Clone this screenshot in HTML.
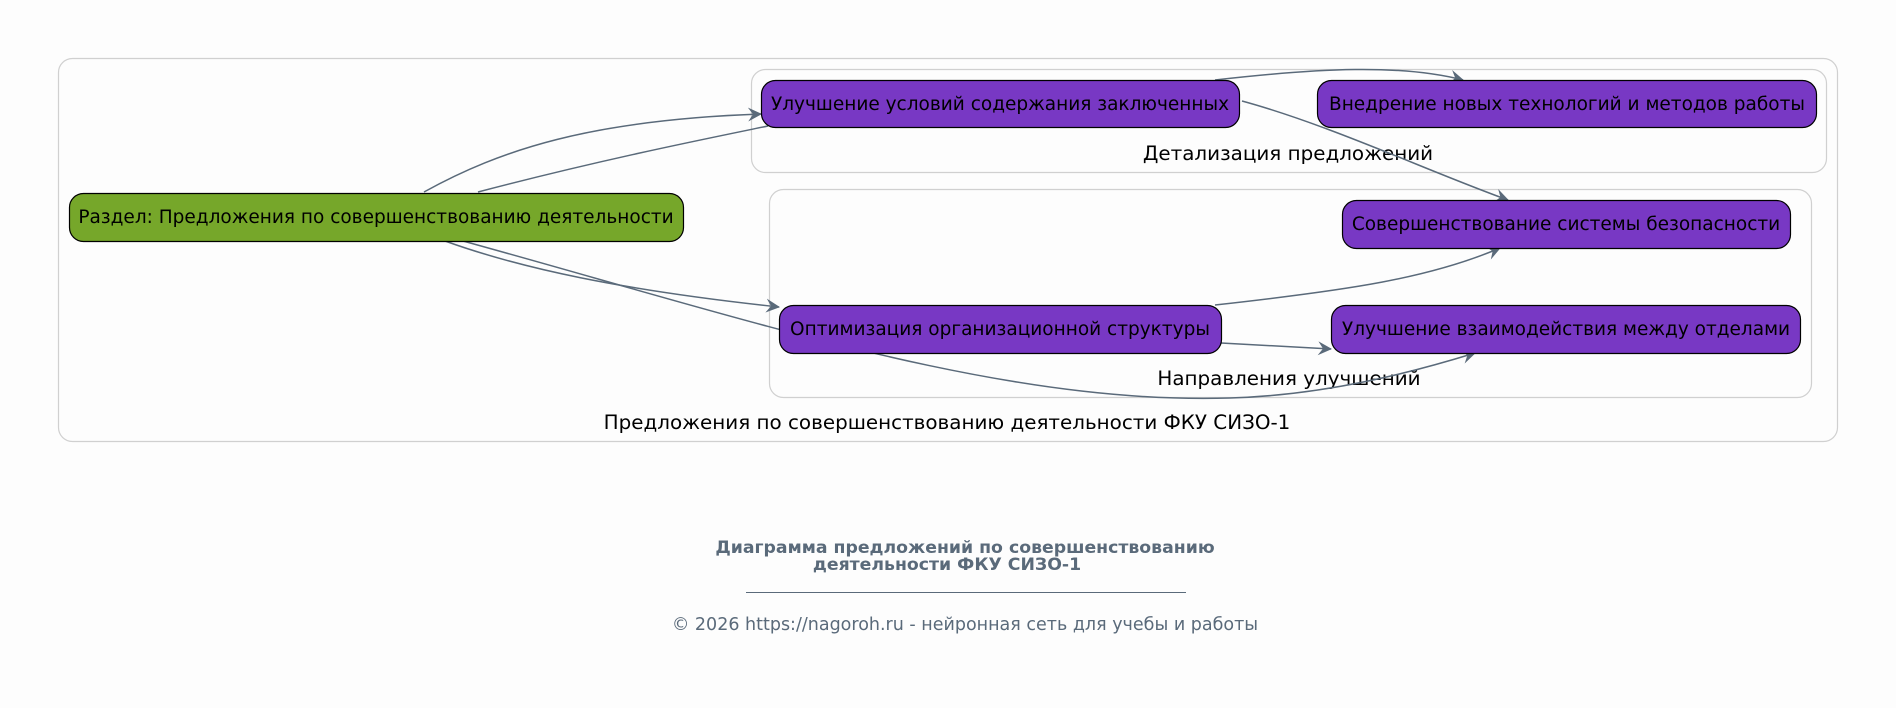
<!DOCTYPE html>
<html><head><meta charset="utf-8"><style>
html,body{margin:0;padding:0;background:#fdfdfd;}
svg{display:block;font-family:"DejaVu Sans","Liberation Sans",sans-serif;}
</style></head><body>
<svg width="1896" height="708" viewBox="0 0 1896 708" xmlns="http://www.w3.org/2000/svg">
<defs>
<marker id="a" viewBox="0 0 14 14" refX="13" refY="7" markerWidth="14" markerHeight="14" markerUnits="userSpaceOnUse" orient="auto">
<path d="M0,0 L14,7 L0,14 L5,7 Z" fill="#5a6a7a"/>
</marker>
</defs>
<rect x="0" y="0" width="1896" height="708" fill="#fdfdfd"/>
<rect x="58.5" y="58.5" width="1779" height="383" rx="14" fill="#fdfdfd" stroke="#d0d0d0" stroke-width="1.2"/>
<text x="947" y="429" font-size="19.9" text-anchor="middle" fill="#000">Предложения по совершенствованию деятельности ФКУ СИЗО-1</text>
<rect x="751.5" y="69.5" width="1075" height="103" rx="14" fill="#fdfdfd" stroke="#d0d0d0" stroke-width="1.2"/>
<text x="1288" y="160" font-size="19.9" text-anchor="middle" fill="#000">Детализация предложений</text>
<rect x="769.5" y="189.5" width="1042" height="208" rx="14" fill="#fdfdfd" stroke="#d0d0d0" stroke-width="1.2"/>
<text x="1289" y="385" font-size="19.9" text-anchor="middle" fill="#000">Направления улучшений</text>

<g fill="none" stroke="#5a6a7a" stroke-width="1.5">
<path d="M424,192 C500,150 590,120 761,114" marker-end="url(#a)"/>
<path d="M478,192 C600,160 700,140 768,126"/>
<path d="M1215,80 C1320,68 1400,64 1463,80" marker-end="url(#a)"/>
<path d="M1242,101 C1330,125 1430,172 1508,200" marker-end="url(#a)"/>
<path d="M445,241 C520,268 620,290 779,307" marker-end="url(#a)"/>
<path d="M463,241 C750,320 1000,405 1230,398 C1330,395 1420,370 1475,353" marker-end="url(#a)"/>
<path d="M1215,305 C1350,290 1430,278 1500,248" marker-end="url(#a)"/>
<path d="M1221,343 L1331,349" marker-end="url(#a)"/>
</g>

<g stroke="#000" stroke-width="1.2">
<rect x="69.5" y="193.5" width="614" height="48" rx="14" fill="#76a72a"/>
<rect x="761.5" y="80.5" width="478" height="47" rx="14" fill="#7838c4"/>
<rect x="1317.5" y="80.5" width="499" height="47" rx="14" fill="#7838c4"/>
<rect x="1342.5" y="200.5" width="448" height="48" rx="14" fill="#7838c4"/>
<rect x="779.5" y="305.5" width="442" height="48" rx="14" fill="#7838c4"/>
<rect x="1331.5" y="305.5" width="469" height="48" rx="14" fill="#7838c4"/>
</g>
<g font-size="18.5" fill="#000" text-anchor="middle">
<text x="376" y="223">Раздел: Предложения по совершенствованию деятельности</text>
<text x="1000" y="110">Улучшение условий содержания заключенных</text>
<text x="1567" y="110">Внедрение новых технологий и методов работы</text>
<text x="1566" y="230">Совершенствование системы безопасности</text>
<text x="1000" y="335">Оптимизация организационной структуры</text>
<text x="1566" y="335">Улучшение взаимодействия между отделами</text>
</g>

<g fill="#5a6a7a" text-anchor="middle">
<text x="965" y="553" font-size="17.3" font-weight="bold">Диаграмма предложений по совершенствованию</text>
<text x="947" y="570" font-size="17.3" font-weight="bold">деятельности ФКУ СИЗО-1</text>
<line x1="746" y1="592.5" x2="1186" y2="592.5" stroke="#5a6a7a" stroke-width="1"/>
<text x="965" y="630" font-size="17.5">© 2026 https://nagoroh.ru - нейронная сеть для учебы и работы</text>
</g>
</svg>
</body></html>
